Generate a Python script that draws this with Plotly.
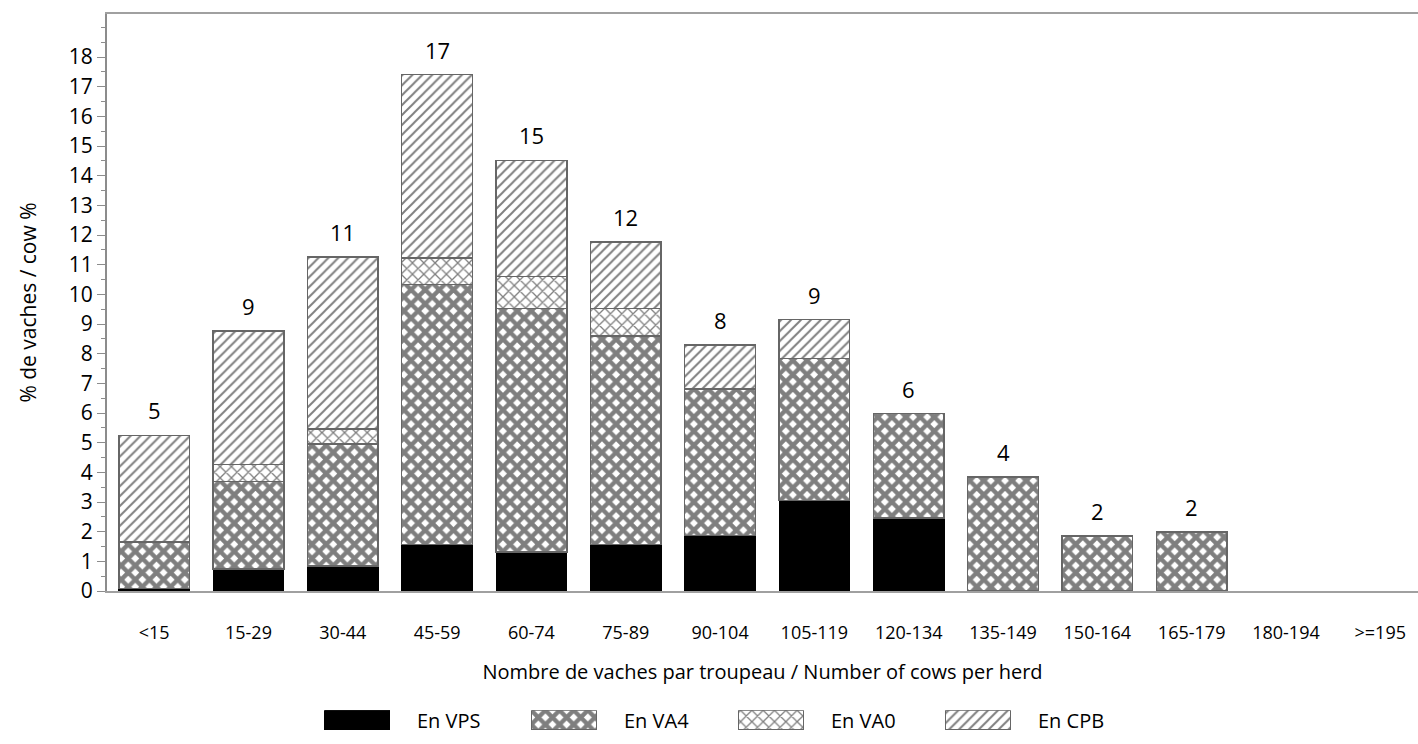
import plotly.graph_objects as go

categories = ["<15", "15-29", "30-44", "45-59", "60-74", "75-89", "90-104",
              "105-119", "120-134", "135-149", "150-164", "165-179", "180-194", ">=195"]

en_vps = [0.08, 0.74, 0.85, 1.57, 1.32, 1.57, 1.88, 3.06, 2.47, None, None, None, None, None]
en_va4 = [1.58, 2.96, 4.11, 8.76, 8.21, 7.03, 4.93, 4.78, 3.51, 3.85, 1.86, 1.99, None, None]
en_va0 = [None, 0.56, 0.50, 0.89, 1.08, 0.93, None, None, None, None, None, None, None, None]
en_cpb = [3.59, 4.50, 5.80, 6.19, 3.91, 2.23, 1.49, 1.31, None, None, None, None, None, None]
bar_labels = ["5", "9", "11", "17", "15", "12", "8", "9", "6", "4", "2", "2", "", ""]
series_names = ["En VPS", "En VA4", "En VA0", "En CPB"]

FONT = "Open Sans"
line_col = "#666666"

styles = [
    dict(color="black", line=dict(color="black", width=1)),
    dict(color="white", line=dict(color=line_col, width=1.5),
         pattern=dict(shape="x", fgcolor="black", bgcolor="white", size=10, solidity=0.68,
                      fillmode="overlay")),
    dict(color="white", line=dict(color=line_col, width=1.5),
         pattern=dict(shape="x", fgcolor="black", bgcolor="white", size=8, solidity=0.3,
                      fillmode="overlay")),
    dict(color="white", line=dict(color=line_col, width=1.5),
         pattern=dict(shape="/", fgcolor="black", bgcolor="white", size=7, solidity=0.28,
                      fillmode="overlay")),
]

fig = go.Figure()
for name, vals, st in zip(series_names, [en_vps, en_va4, en_va0, en_cpb], styles):
    fig.add_trace(go.Bar(x=categories, y=vals, name=name, marker=st, showlegend=False,
                         xaxis="x", yaxis="y"))

totals = []
for i in range(len(categories)):
    s = sum(v for v in (en_vps[i], en_va4[i], en_va0[i], en_cpb[i]) if v is not None)
    totals.append(s)

for cat, tot, lab in zip(categories, totals, bar_labels):
    if lab:
        fig.add_annotation(x=cat, y=tot, xref="x", yref="y", text=lab, showarrow=False,
                           yanchor="bottom", yshift=8,
                           font=dict(family=FONT, size=22, color="black"))

# legend drawn as wide swatches on a small auxiliary axis
legend_idx = list(range(len(series_names)))
for i, (name, st) in enumerate(zip(series_names, styles)):
    fig.add_trace(go.Bar(x=[legend_idx[i]], y=[1], width=0.314, marker=st, showlegend=False,
                         xaxis="x2", yaxis="y2", hoverinfo="skip"))
    fig.add_annotation(x=legend_idx[i] + 0.157 + 0.125, y=0.5, xref="x2", yref="y2",
                       text=name, showarrow=False, xanchor="left", yanchor="middle",
                       font=dict(family=FONT, size=20, color="black"))

fig.update_layout(
    width=1418, height=744,
    barmode="stack", bargap=0.25,
    paper_bgcolor="white", plot_bgcolor="white",
    margin=dict(l=107, r=0, t=14, b=0),
    font=dict(family=FONT, color="black"),
    showlegend=False,
    xaxis=dict(type="category", range=[-0.5, 13.4], domain=[0, 1], anchor="y",
               showline=True, linecolor="#a0a0a0", linewidth=2, mirror=True, ticks="",
               showgrid=False, tickfont=dict(family=FONT, size=18, color="black"),
               ticklabelstandoff=24,
               title=dict(text="Nombre de vaches par troupeau / Number of cows per herd",
                          font=dict(family=FONT, size=20, color="black"), standoff=22)),
    yaxis=dict(range=[0, 19.45], domain=[0.1952, 1], anchor="x",
               showline=True, linecolor="#8c8c8c", linewidth=2,
               ticks="outside", ticklen=8, tickcolor="#8c8c8c", tickwidth=1,
               tickvals=list(range(0, 19)), showgrid=False, zeroline=False,
               minor=dict(ticks="outside", ticklen=4, tickcolor="#8c8c8c", dtick=0.5,
                          showgrid=False),
               tickfont=dict(family=FONT, size=21, color="black"),
               title=dict(text="% de vaches / cow %",
                          font=dict(family=FONT, size=21, color="black"), standoff=26)),
    xaxis2=dict(domain=[0, 1], anchor="y2", range=[-1.208, 5.126], visible=False,
                fixedrange=True),
    yaxis2=dict(domain=[0.00137, 0.0288], anchor="x2", range=[0, 1], visible=False,
                fixedrange=True),
)

# remove the browser's default 8px body margin so the figure fills the window exactly
fig.write_html("out.html", config={"displayModeBar": False},
               post_script="document.body.style.margin='0';document.body.style.overflow='hidden';")
